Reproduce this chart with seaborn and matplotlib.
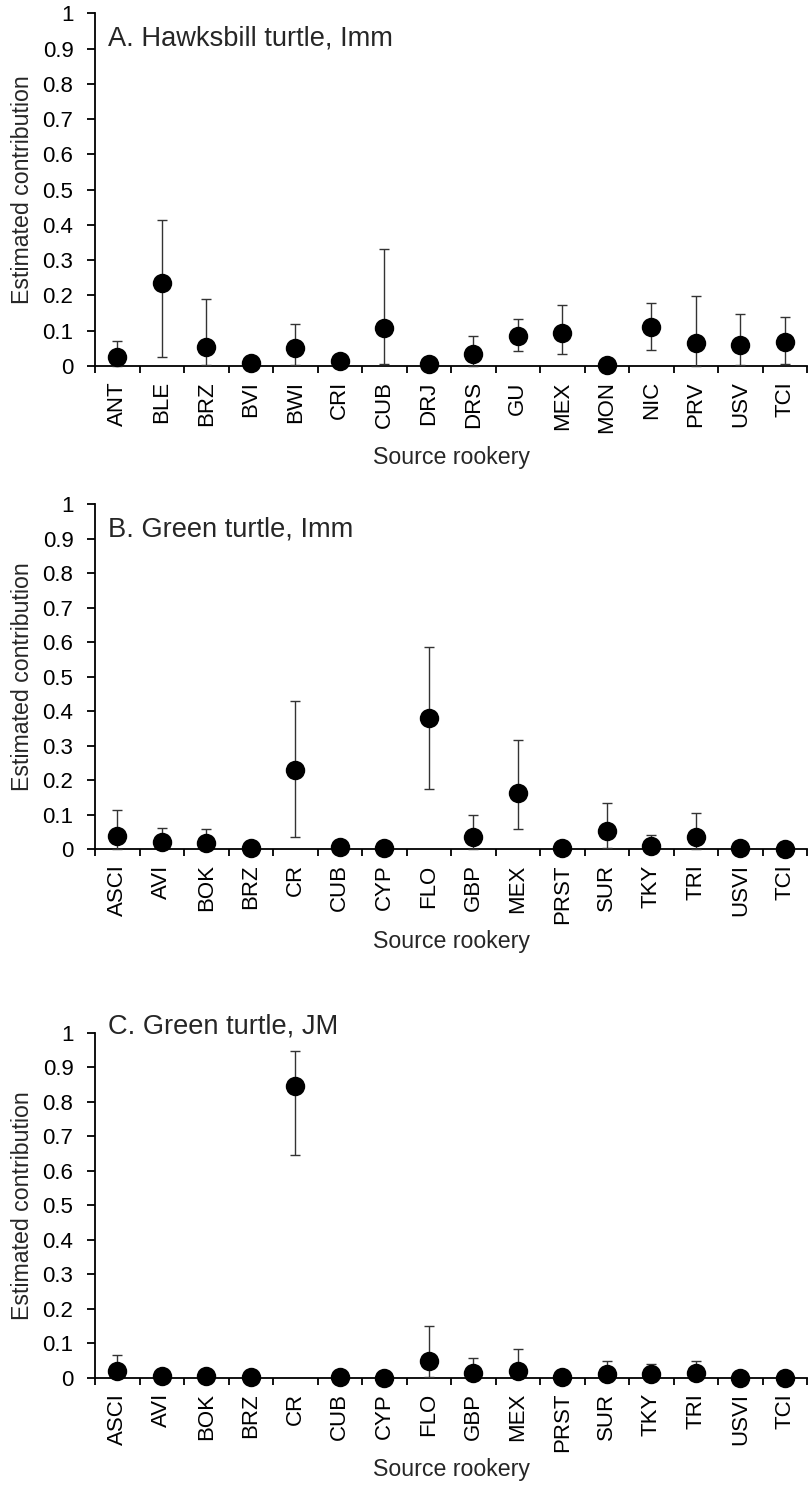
import numpy as np
import pandas as pd
import matplotlib.pyplot as plt
import seaborn as sns

sns.set_style("ticks")
plt.rcParams['font.family'] = ['Liberation Sans', 'DejaVu Sans']

# Panel A: hawksbill turtle, immature
hawks_sites = ['ANT', 'BLE', 'BRZ', 'BVI', 'BWI', 'CRI', 'CUB', 'DRJ',
               'DRS', 'GU', 'MEX', 'MON', 'NIC', 'PRV', 'USV', 'TCI']
hawks_mean = [0.024, 0.235, 0.053, 0.008, 0.050, 0.014, 0.107, 0.006,
              0.033, 0.085, 0.094, 0.003, 0.111, 0.066, 0.059, 0.067]
hawks_lo = [0.0, 0.025, 0.002, 0.0, 0.003, 0.0, 0.005, 0.0,
            0.001, 0.041, 0.033, 0.0, 0.045, 0.0, 0.003, 0.006]
hawks_hi = [0.072, 0.413, 0.190, 0.010, 0.118, 0.020, 0.332, 0.008,
            0.086, 0.133, 0.174, 0.005, 0.179, 0.199, 0.147, 0.139]

# Panels B and C: green turtle
green_sites = ['ASCI', 'AVI', 'BOK', 'BRZ', 'CR', 'CUB', 'CYP', 'FLO',
               'GBP', 'MEX', 'PRST', 'SUR', 'TKY', 'TRI', 'USVI', 'TCI']
imm_mean = [0.039, 0.019, 0.017, 0.004, 0.229, 0.007, 0.002, 0.379,
            0.034, 0.161, 0.004, 0.053, 0.009, 0.035, 0.002, 0.0]
imm_lo = [0.0, 0.0, 0.0, 0.0, 0.035, 0.0, 0.0, 0.175,
          0.0, 0.057, 0.0, 0.004, 0.0, 0.0, 0.0, 0.0]
imm_hi = [0.113, 0.062, 0.058, 0.006, 0.428, 0.010, 0.004, 0.586,
          0.100, 0.317, 0.006, 0.133, 0.041, 0.103, 0.004, 0.002]

jm_mean = [0.020, 0.006, 0.005, 0.003, 0.845, 0.003, 0.0, 0.049,
           0.013, 0.020, 0.002, 0.011, 0.010, 0.013, 0.0, 0.0]
jm_lo = [0.0, 0.0, 0.0, 0.0, 0.646, 0.0, 0.0, 0.003,
         0.0, 0.0, 0.0, 0.0, 0.0, 0.0, 0.0, 0.0]
jm_hi = [0.065, 0.010, 0.010, 0.006, 0.946, 0.006, 0.002, 0.150,
         0.056, 0.083, 0.004, 0.049, 0.040, 0.049, 0.002, 0.002]

panels = [
    ('A. Hawksbill turtle, Imm', hawks_sites, hawks_mean, hawks_lo, hawks_hi),
    ('B. Green turtle, Imm', green_sites, imm_mean, imm_lo, imm_hi),
    ('C. Green turtle, JM', green_sites, jm_mean, jm_lo, jm_hi),
]

# axes boxes in figure fractions [left, bottom, width, height]
boxes = [[0.1173, 0.7544, 0.8790, 0.2366],
         [0.1173, 0.4302, 0.8790, 0.2315],
         [0.1173, 0.0754, 0.8790, 0.2315]]
title_y = [0.928, 0.927, 1.017]

fig = plt.figure(figsize=(8.1, 14.9), dpi=100)

for (title, sites, mean, lo, hi), box, ty in zip(panels, boxes, title_y):
    ax = fig.add_axes(box)
    df = pd.DataFrame({'site': sites, 'mean': mean, 'lo': lo, 'hi': hi})
    yerr = [df['mean'] - df['lo'], df['hi'] - df['mean']]
    ax.errorbar(df['site'], df['mean'], yerr=yerr, fmt='none',
                ecolor='#333333', elinewidth=1.0, capsize=3.6, capthick=1.0,
                clip_on=False, zorder=3)
    sns.scatterplot(data=df, x='site', y='mean', ax=ax, color='black',
                    s=196, linewidth=0, clip_on=False, zorder=4)

    ax.set_xlim(-0.5, len(sites) - 0.5)
    ax.set_ylim(0, 1)
    ax.set_yticks(np.arange(0, 1.01, 0.1))
    ax.set_yticklabels(['{:g}'.format(round(v, 1)) for v in np.arange(0, 1.01, 0.1)])
    ax.set_xticks(np.arange(-0.5, len(sites), 1), minor=True)

    sns.despine(ax=ax)
    for sp in ['left', 'bottom']:
        ax.spines[sp].set_linewidth(1.3)
        ax.spines[sp].set_color('black')
        ax.spines[sp].set_zorder(2.5)

    ax.tick_params(axis='y', which='major', direction='out', length=5.5,
                   width=1.3, pad=10, labelsize=16, colors='black')
    ax.tick_params(axis='x', which='major', length=0, pad=11,
                   labelsize=16, labelrotation=90, colors='black')
    ax.tick_params(axis='x', which='minor', direction='out', length=5,
                   width=1.3, color='black')

    ax.set_xlabel('Source rookery', fontsize=16.7)
    ax.set_ylabel('Estimated contribution', fontsize=16.7)
    h_px = box[3] * 1490
    ax.xaxis.label.set_va('center')
    ax.xaxis.set_label_coords(0.5, -92 / h_px)
    ax.yaxis.label.set_va('center')
    ax.yaxis.set_label_coords(-0.1018, 0.5)

    ax.text(0.018, ty, title, transform=ax.transAxes, fontsize=19.6,
            ha='left', va='center')
    ax.grid(False)

fig.savefig('out.png', dpi=100)
